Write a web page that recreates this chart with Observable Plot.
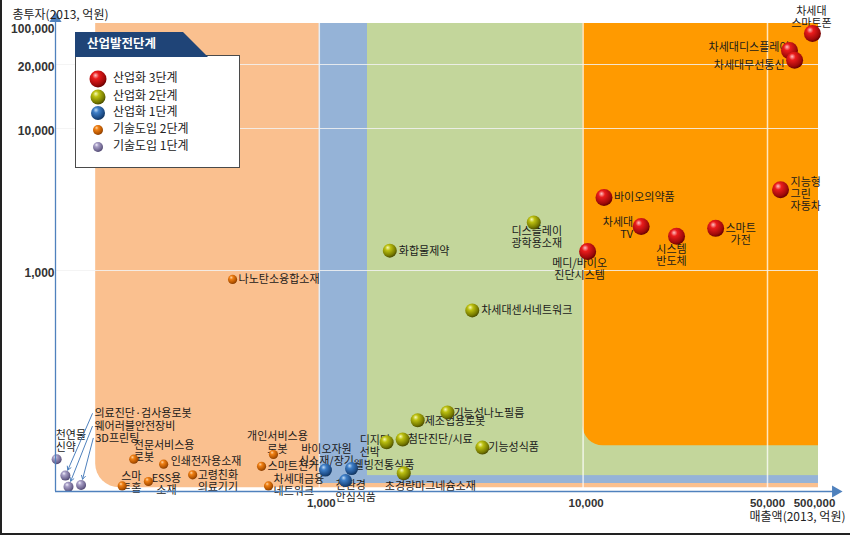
<!DOCTYPE html>
<html><head><meta charset="utf-8">
<script src="https://cdn.jsdelivr.net/npm/d3@7"></script>
<script src="https://cdn.jsdelivr.net/npm/@observablehq/plot@0.6"></script>
<style>
body{margin:0;background:#fff;}
#wrap{position:relative;width:850px;height:538px;overflow:hidden;font-family:"Noto Sans CJK KR","Noto Sans",sans-serif;}
#wrap svg.plot{position:absolute;left:0;top:0;}
#legend{position:absolute;left:75px;top:30px;}
.bl{position:absolute;left:0;top:0;width:2px;height:535px;background:#222;}
.bb{position:absolute;left:0;top:533px;width:850px;height:2px;background:#222;}
</style></head><body>
<svg width="0" height="0" style="position:absolute">
<defs>
<radialGradient id="gRed" cx="0.4" cy="0.35" r="0.65" fx="0.35" fy="0.28">
<stop offset="0" stop-color="#ffc2c2"/><stop offset="0.3" stop-color="#ea1c1c"/><stop offset="0.8" stop-color="#a00a0a"/><stop offset="1" stop-color="#6a0000"/></radialGradient>
<radialGradient id="gGreen" cx="0.4" cy="0.35" r="0.65" fx="0.35" fy="0.28">
<stop offset="0" stop-color="#f6f9b8"/><stop offset="0.3" stop-color="#bcc010"/><stop offset="0.8" stop-color="#767a00"/><stop offset="1" stop-color="#4c4e00"/></radialGradient>
<radialGradient id="gBlue" cx="0.4" cy="0.35" r="0.65" fx="0.35" fy="0.28">
<stop offset="0" stop-color="#c2dcf6"/><stop offset="0.3" stop-color="#3f7fc8"/><stop offset="0.8" stop-color="#1d4c86"/><stop offset="1" stop-color="#123560"/></radialGradient>
<radialGradient id="gOrange" cx="0.4" cy="0.35" r="0.65" fx="0.35" fy="0.28">
<stop offset="0" stop-color="#ffd6a6"/><stop offset="0.3" stop-color="#f08014"/><stop offset="0.8" stop-color="#b35400"/><stop offset="1" stop-color="#8a3d00"/></radialGradient>
<radialGradient id="gPurple" cx="0.4" cy="0.35" r="0.65" fx="0.35" fy="0.28">
<stop offset="0" stop-color="#f3f0fb"/><stop offset="0.3" stop-color="#a89fc6"/><stop offset="0.8" stop-color="#6f6690"/><stop offset="1" stop-color="#4e4670"/></radialGradient>
</defs></svg>
<div id="wrap"><div class="bl"></div><div class="bb"></div></div>
<script>
// ---------- data ----------
const xTickValues = [1000, 10000, 50000, 500000];
const yTickValues = [1000, 10000, 20000, 100000];
const xTitle = "매출액(2013, 억원)";
const yTitle = "총투자(2013, 억원)";
const legendTitle = "산업발전단계";
const stageLabels = ["산업화 3단계", "산업화 2단계", "산업화 1단계", "기술도입 2단계", "기술도입 1단계"];

// 산업화 3단계
const names3 = ["차세대\n스마트폰", "차세대디스플레이", "차세대무선통신", "지능형\n그린\n자동차", "바이오의약품", "차세대\nTV", "시스템\n반도체", "스마트\n가전", "메디/바이오\n진단시스템"];
const sales3 = [380000, 135000, 170000, 90000, 12000, 16600, 22600, 31800, 10400];
const invest3 = [74000, 36000, 24000, 3700, 3270, 2040, 1740, 1980, 1360];
// 산업화 2단계
const names2 = ["디스플레이\n광학용소재", "화합물제약", "차세대센서네트워크", "기능성나노필름", "제조업용로봇", "첨단진단/시료", "디지털\n선박", "기능성식품", "초경량마그네슘소재"];
const sales2 = [6500, 1850, 3800, 3060, 2360, 2070, 1800, 4150, 2090];
const invest2 = [2180, 1380, 660, 228, 210, 172, 167, 158, 121];
// 산업화 1단계
const names1 = ["바이오자원\n신소재/장기", "웰빙전통식품", "친환경\n안심식품"];
const sales1 = [1055, 1325, 1257];
const invest1 = [125, 127, 112];
// 기술도입 2단계
const namesT2 = ["나노탄소융합소재", "개인서비스용\n로봇", "스마트전기", "차세대금융\n네트워크", "인쇄전자용소재", "전문서비스용\n로봇", "고령친화\n의료기기", "ESS용\n소재", "스마\n트홈"];
const salesT2 = [469, 670, 604, 642, 257, 198, 331, 225, 179];
const investT2 = [911, 147, 130, 106, 133, 140, 119, 111, 106];
// 기술도입 1단계
const namesT1 = ["천연물\n신약", "의료진단·검사용로봇", "웨어러블안전장비", "3D프린팅"];
const salesT1 = [101, 109, 112, 125];
const investT1 = [140, 118, 105, 107];
// callout label anchors for 기술도입 1단계 (data units)
const calloutNames = ["의료진단·검사용로봇", "웨어러블안전장비", "3D프린팅"];
const calloutSales = [138, 138, 139];
const calloutInvest = [225, 197, 174];

// background zones (sales start, investment floor)
const zoneNames = ["기술도입", "산업화1", "산업화2", "산업화3"];
const zoneSalesFrom = [142, 1000, 1523, 10000];
const zoneInvestFrom = [104, 108.7, 118, 161];

// ---------- build ----------
const stageStyle = [
  {grad: "url(#gRed)", r: 8.5},
  {grad: "url(#gGreen)", r: 7},
  {grad: "url(#gBlue)", r: 6.5},
  {grad: "url(#gOrange)", r: 4.6},
  {grad: "url(#gPurple)", r: 5}
];
const groups = [[names3, sales3, invest3], [names2, sales2, invest2], [names1, sales1, invest1], [namesT2, salesT2, investT2], [namesT1, salesT1, investT1]]
  .map(([n, s, v], gi) => n.map((name, i) => ({name, sales: s[i], invest: v[i], stage: gi})));
const points = groups.flat();
const callouts = calloutNames.map((name, i) => {
  const p = points.find(d => d.name === name);
  return {name, lx: calloutSales[i], ly: calloutInvest[i], x: p.sales, y: p.invest};
});
const zones = zoneNames.map((z, i) => ({z, x1: zoneSalesFrom[i], y1: zoneInvestFrom[i]}));
const zoneFill = ["#FAC08F", "#95B3D7", "#C3D69B", "#FF9A00"];
const zoneRx = [24, 0, 0, 20];

const place = {
  "차세대\n스마트폰": ["middle", "bottom", -1, -7],
  "차세대디스플레이": ["end", "middle", 0, -3],
  "차세대무선통신": ["end", "middle", -10, 5],
  "지능형\n그린\n자동차": ["start", "middle", 10, 4],
  "바이오의약품": ["start", "middle", 10, 0],
  "차세대\nTV": ["end", "middle", -8, 2],
  "시스템\n반도체": ["middle", "top", -5, 8],
  "스마트\n가전": ["middle", "middle", 25, 6],
  "메디/바이오\n진단시스템": ["middle", "top", -8, 7],
  "디스플레이\n광학용소재": ["middle", "top", 3, 4],
  "화합물제약": ["start", "middle", 9, 0],
  "차세대센서네트워크": ["start", "middle", 9, 0],
  "기능성나노필름": ["start", "middle", 6, 1],
  "제조업용로봇": ["start", "middle", 7, 1],
  "첨단진단/시료": ["start", "middle", 5, 0],
  "디지털\n선박": ["start", "middle", -27, 4],
  "기능성식품": ["start", "middle", 6, 0],
  "초경량마그네슘소재": ["start", "middle", -19, 13],
  "바이오자원\n신소재/장기": ["middle", "bottom", 1, -5],
  "웰빙전통식품": ["start", "middle", 2, -3],
  "친환경\n안심식품": ["start", "top", -10, 0],
  "나노탄소융합소재": ["start", "middle", 6, 0],
  "개인서비스용\n로봇": ["middle", "bottom", 4, -2],
  "스마트전기": ["start", "middle", 6, 0],
  "차세대금융\n네트워크": ["start", "middle", 5, -1],
  "인쇄전자용소재": ["start", "middle", 7, -3],
  "전문서비스용\n로봇": ["start", "middle", 0, -8],
  "고령친화\n의료기기": ["start", "middle", 5, 6],
  "ESS용\n소재": ["middle", "middle", 18, 3],
  "스마\n트홈": ["start", "middle", -1, -4],
  "천연물\n신약": ["start", "bottom", -1, -8]
};
const xTickDx = {1000: 2, 10000: 3, 50000: 0, 500000: -4};

const KR = "'Noto Sans CJK KR','Noto Sans',sans-serif";
const NUM = "'Liberation Sans',Arial,sans-serif";
const axisColor = "#4F81BD";
const xAxisEnd = 1.08e6, yAxisEnd = 140000;
const fmt = d3.format(",");

const marks = [];
zones.forEach((z, i) => marks.push(Plot.rect([z], {x1: "x1", x2: () => 1e8, y1: "y1", y2: () => 1e7, fill: zoneFill[i], rx: zoneRx[i], clip: true})));
marks.push(Plot.ruleX([1000, 10000, 50000], {stroke: "#ffffff", strokeOpacity: 0.75, strokeWidth: 1.5}));
marks.push(Plot.ruleY([1000, 10000, 20000], {stroke: "#f2f2f2", strokeOpacity: 0.85, strokeWidth: 1}));
// labels (dots drawn on top)
points.forEach(p => {
  const pl = place[p.name];
  if (!pl) return;
  marks.push(Plot.text([p], {x: "sales", y: "invest", text: "name", textAnchor: pl[0], lineAnchor: pl[1], dx: pl[2], dy: pl[3], fontSize: 11, lineHeight: 1.1, fill: "#1a1a1a", fontFamily: KR}));
});
marks.push(Plot.text(callouts, {x: "lx", y: "ly", text: "name", textAnchor: "start", dx: 2, fontSize: 11, fill: "#1a1a1a", fontFamily: KR}));
marks.push(Plot.arrow(callouts, {x1: "lx", y1: "ly", x2: "x", y2: "y", insetEnd: 6, headLength: 6, stroke: axisColor, strokeWidth: 1}));
groups.forEach((g, gi) => marks.push(Plot.dot(g, {x: "sales", y: "invest", r: stageStyle[gi].r, fill: stageStyle[gi].grad, stroke: "none"})));
// axes
marks.push(Plot.ruleY([100], {x1: 100, x2: xAxisEnd, stroke: axisColor, strokeWidth: 1.3}));
marks.push(Plot.ruleX([100], {y1: 100, y2: yAxisEnd, stroke: axisColor, strokeWidth: 1.3}));
marks.push(Plot.dot([xAxisEnd], {x: d => d, y: 100, symbol: "triangle", rotate: 90, r: 4.5, fill: axisColor, stroke: "none"}));
marks.push(Plot.dot([yAxisEnd], {y: d => d, x: 100, symbol: "triangle", r: 4.5, fill: axisColor, stroke: "none"}));
xTickValues.forEach(t => marks.push(Plot.text([t], {x: d => d, y: 100, text: d => fmt(d), dy: 12, dx: xTickDx[t], fontSize: 11.5, fontWeight: "bold", fill: "#333", fontFamily: NUM})));
marks.push(Plot.text(yTickValues, {y: d => d, x: 100, text: d => fmt(d), textAnchor: "end", dx: -1, dy: 3, fontSize: 12, fontWeight: "bold", fill: "#333", fontFamily: NUM}));
marks.push(Plot.text([yTitle], {text: d => d, frameAnchor: "top-left", textAnchor: "start", dx: -43, dy: -13, fontSize: 12, fill: "#222", fontFamily: KR}));
marks.push(Plot.text([xTitle], {text: d => d, frameAnchor: "bottom-right", textAnchor: "end", dx: 27, dy: 29, fontSize: 12, fill: "#222", fontFamily: KR}));

const chart = Plot.plot({
  width: 850, height: 538,
  marginLeft: 55, marginRight: 32, marginTop: 23, marginBottom: 47,
  x: {type: "log", domain: [100, 50000, 500000], range: [55, 767, 818], axis: null},
  y: {type: "log", domain: [100, 1000, 10000, 20000, 100000], range: [491, 270, 128, 64, 26], axis: null},
  style: {background: "transparent", overflow: "visible", fontFamily: KR},
  marks
});
chart.classList.add("plot");
const wrap = document.getElementById("wrap");
wrap.insertBefore(chart, wrap.firstChild);

// ---------- legend ----------
const lg = d3.select(wrap).append("svg").attr("id", "legend").attr("width", 172).attr("height", 142);
lg.append("rect").attr("x", 0.5).attr("y", 25.5).attr("width", 164).attr("height", 112).attr("fill", "#fff").attr("stroke", "#4a4a4a").attr("stroke-width", 1);
lg.append("path").attr("d", "M0,2 H108 L133,27 H0 Z").attr("fill", "#1F4477");
lg.append("text").attr("x", 12).attr("y", 15).attr("dominant-baseline", "middle").attr("fill", "#fff")
  .attr("font-size", 12.5).attr("font-weight", "bold").attr("font-family", KR).text(legendTitle);
const rowsY = [49, 67, 83, 100, 117];
stageLabels.forEach((s, i) => {
  lg.append("circle").attr("cx", 23).attr("cy", rowsY[i]).attr("r", [8.5, 7.5, 7, 5, 5][i]).attr("fill", stageStyle[i].grad);
  lg.append("text").attr("x", 38).attr("y", rowsY[i]).attr("dominant-baseline", "middle").attr("fill", "#222")
    .attr("font-size", 12).attr("font-family", KR).text(s);
});
</script>
</body></html>
